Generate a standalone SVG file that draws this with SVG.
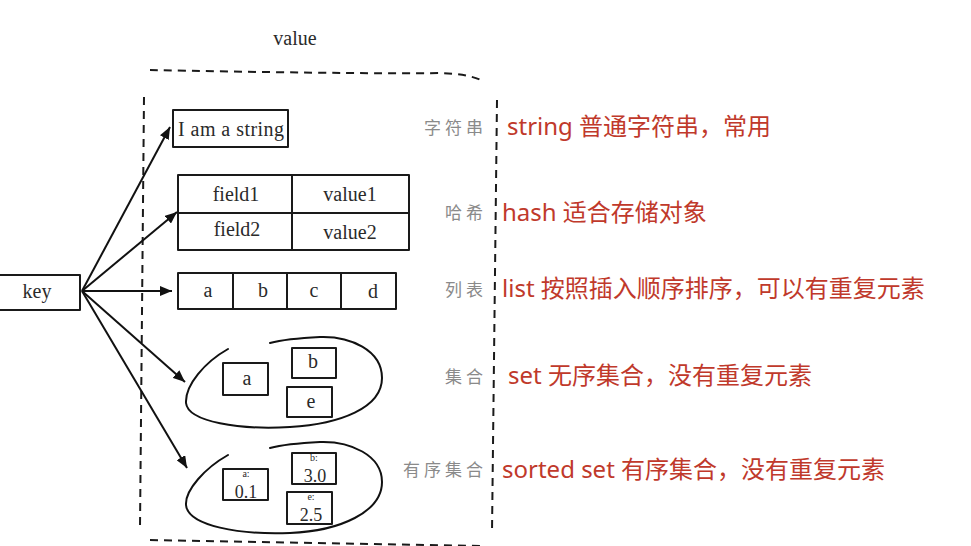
<svg xmlns="http://www.w3.org/2000/svg" width="971" height="546" viewBox="0 0 971 546">
<style>
.bg{fill:#ffffff}
.box{fill:none;stroke:#1a1a1a;stroke-width:2;stroke-linejoin:round}
.curve{fill:none;stroke:#111;stroke-width:2;stroke-linecap:round}
.dash{fill:none;stroke:#1a1a1a;stroke-width:2;stroke-dasharray:8 6}
.conn{fill:none;stroke:#111;stroke-width:2}
.hand{font-family:"Liberation Serif","DejaVu Serif",serif;font-size:20px;fill:#2a2a2a;text-anchor:middle}
.num{font-size:18px}
.small{font-size:10px}
.gray{font-family:"Noto Sans CJK SC","Noto Sans",sans-serif;font-size:17px;fill:#8a8a8a;text-anchor:end;letter-spacing:4px}
.red{font-family:"Noto Sans","Noto Sans CJK SC",sans-serif;font-size:24px;fill:#c0392b}
</style>
<defs>
<marker id="ah" viewBox="0 0 12 10" refX="12" refY="5" markerWidth="12" markerHeight="10" markerUnits="userSpaceOnUse" orient="auto">
<path d="M0,0 L12,5 L0,10 Z" fill="#111"/>
</marker>
</defs>
<rect class="bg" x="0" y="0" width="971" height="546"/>

<text class="hand" x="295" y="45">value</text>

<g id="valueFrame">
<path class="dash" d="M150,70 C250,72 380,74 440,73 Q468,74 481,80"/>
<path class="dash" d="M144,97 L140,527"/>
<path class="dash" d="M497,100 L492,532"/>
<path class="dash" d="M150,540 L482,546"/>
</g>

<g id="key">
<rect class="box" x="-2" y="275" width="82" height="35"/>
<text class="hand" x="37" y="298">key</text>
</g>

<g id="connectors">
<line class="conn" x1="82" y1="291" x2="170" y2="127" marker-end="url(#ah)"/>
<line class="conn" x1="82" y1="291" x2="177" y2="212" marker-end="url(#ah)"/>
<line class="conn" x1="82" y1="291" x2="172" y2="291" marker-end="url(#ah)"/>
<line class="conn" x1="82" y1="291" x2="185" y2="382" marker-end="url(#ah)"/>
<line class="conn" x1="82" y1="291" x2="187" y2="468" marker-end="url(#ah)"/>
</g>

<g id="string">
<rect class="box" x="173" y="110" width="115" height="37"/>
<text class="hand" x="231" y="136" textLength="106">I am a string</text>
</g>

<g id="hash">
<rect class="box" x="178" y="175" width="114" height="38"/>
<rect class="box" x="292" y="175" width="117" height="38"/>
<rect class="box" x="178" y="213" width="114" height="37"/>
<rect class="box" x="292" y="213" width="117" height="37"/>
<text class="hand" x="236" y="201">field1</text>
<text class="hand" x="350" y="201">value1</text>
<text class="hand" x="237" y="236">field2</text>
<text class="hand" x="350" y="239">value2</text>
</g>

<g id="list">
<rect class="box" x="178" y="273" width="55" height="36"/>
<rect class="box" x="233" y="273" width="54" height="36"/>
<rect class="box" x="287" y="273" width="54" height="36"/>
<rect class="box" x="341" y="273" width="55" height="36"/>
<text class="hand" x="208" y="297">a</text>
<text class="hand" x="263" y="297">b</text>
<text class="hand" x="314" y="297">c</text>
<text class="hand" x="373" y="298">d</text>
</g>

<g id="set">
<path class="curve" d="M228,349 C205,362 185,385 186,403 C188,422 240,430 290,427 C340,424 382,408 382,378 C382,350 350,336 320,337 C300,338 285,339 270,343"/>
<rect class="box" x="223" y="363" width="45" height="32"/>
<rect class="box" x="292" y="348" width="44" height="30"/>
<rect class="box" x="287" y="387" width="45" height="30"/>
<text class="hand" x="247" y="385">a</text>
<text class="hand" x="313" y="368">b</text>
<text class="hand" x="311" y="408">e</text>
</g>

<g id="sortedset">
<path class="curve" d="M228,455 C205,468 185,490 186,505 C188,526 240,535 290,533 C340,531 382,512 382,482 C382,455 350,441 320,442 C300,443 285,444 270,448"/>
<rect class="box" x="223" y="469" width="45" height="31"/>
<rect class="box" x="292" y="453" width="44" height="31"/>
<rect class="box" x="287" y="492" width="45" height="32"/>
<text class="hand small" x="246" y="477">a:</text>
<text class="hand num" x="246" y="498">0.1</text>
<text class="hand small" x="314" y="461">b:</text>
<text class="hand num" x="315" y="482">3.0</text>
<text class="hand small" x="311" y="500">e:</text>
<text class="hand num" x="311" y="521">2.5</text>
</g>

<g id="labels">
<text class="gray" x="487" y="134">字符串</text>
<text class="gray" x="487" y="219">哈希</text>
<text class="gray" x="487" y="296">列表</text>
<text class="gray" x="487" y="383">集合</text>
<text class="gray" x="487" y="476">有序集合</text>
</g>

<g id="descriptions">
<text class="red" x="507" y="135">string 普通字符串，常用</text>
<text class="red" x="502" y="221">hash 适合存储对象</text>
<text class="red" x="502" y="297">list 按照插入顺序排序，可以有重复元素</text>
<text class="red" x="508" y="384">set 无序集合，没有重复元素</text>
<text class="red" x="502" y="478">sorted set 有序集合，没有重复元素</text>
</g>
</svg>
